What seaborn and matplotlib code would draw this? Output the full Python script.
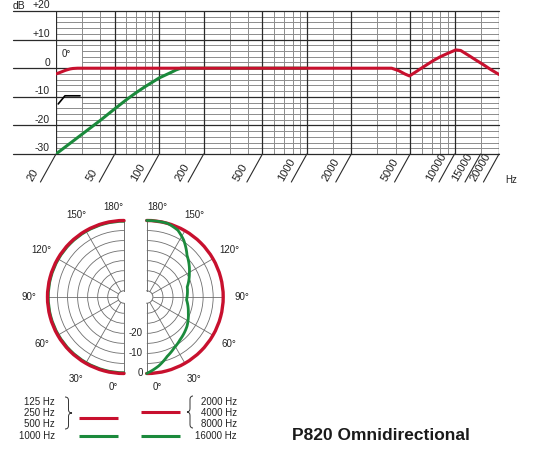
import numpy as np
import matplotlib
matplotlib.use('Agg')
import matplotlib.pyplot as plt
import matplotlib.transforms as mtransforms
from matplotlib.path import Path
from matplotlib.patches import PathPatch
import seaborn as sns

# frequency response, 0 degrees
red_hz = [20, 21, 22, 23, 24, 25, 26, 28, 30, 1000, 3750, 4200, 4600, 4950, 5500, 6000,
          7200, 8000, 9000, 10200, 11000, 12700, 14100, 15600, 17500, 20000]
red_db = [-2.0, -1.6, -1.2, -0.8, -0.5, -0.25, -0.1, 0, 0, 0, 0, -0.9, -2.0, -2.7, -1.2, 0.1,
          2.7, 4.0, 5.2, 6.4, 6.2, 4.2, 2.7, 1.3, -0.4, -2.2]
green_hz = [20, 25, 30, 40, 50, 60, 70, 80, 100, 120, 130, 140, 200, 1000]
green_db = [-30, -26.2, -23.1, -18.2, -14.2, -11.0, -8.5, -6.5, -3.4, -1.5, -0.6, 0, 0, 0]

# filter symbol in the little box
filter_hz = [20.7, 23, 29.1]
filter_db = [-12.5, -9.65, -9.65]

major_hz = [20, 50, 100, 200, 500, 1000, 2000, 5000, 10000, 20000]
minor_hz = [30, 40, 60, 70, 80, 90, 150, 300, 400, 600, 700, 800, 900, 1500,
            3000, 4000, 6000, 7000, 8000, 9000, 15000]
hz_labels = [20, 50, 100, 200, 500, 1000, 2000, 5000, 10000, 15000, 20000]
db_major = [20, 10, 0, -10, -20, -30]
db_major_labels = ['+20', '+10', '0', '-10', '-20', '-30']
db_minor = [18, 16, 14, 12, 8, 6, 4, 2, -2, -4, -6, -8, -12, -14, -16, -18,
            -22, -24, -26, -28]
db_boxed = [6, 4, 2, -12]   # minor rows that start at 30 Hz (white boxes)

# polar patterns
polar_deg = [0, 30, 60, 90, 120, 150, 180]
polar_left_red = [0, 0, 0, 0, 0, 0, 0]
polar_left_green = [-0.4, -0.4, -0.4, -0.4, -0.4, -0.4, -0.4]
polar_right_red = [0, 0, 0, 0, 0, 0, 0]
green16k_deg = [0, 10, 19, 28, 38, 54, 69, 86, 104, 119, 136, 147, 155, 164, 172, 180]
green16k_db = [0, -3.3, -6.8, -9.2, -11.1, -13.3, -15.9, -18.2, -17.3, -13.8, -9.2,
               -4.3, -1.4, 0, 0, 0]
ring_db = [-30, -25, -20, -15, -10, -5, 0]
ring_labels = [-20, -10, 0]
angle_labels = [30, 60, 90, 120, 150]

legend_left = ['125 Hz', '250 Hz', '500 Hz', '1000 Hz']
legend_right = ['2000 Hz', '4000 Hz', '8000 Hz', '16000 Hz']

RED = '#c8102e'
GREEN = '#1b8a3c'
DARK = '#2a2a2a'
LIGHT = '#8c8c8c'
TXT = '#222222'

sns.set_theme(style='white')
plt.rcParams['font.family'] = ['Liberation Sans', 'DejaVu Sans']

fig = plt.figure(figsize=(5.5, 4.5), dpi=100)
W, H = 550.0, 450.0


def rect(x0, y0, x1, y1):
    # pixel box (top-left origin) -> figure fraction
    return [x0 / W, 1 - y1 / H, (x1 - x0) / W, (y1 - y0) / H]


# ---------------- frequency response ----------------
ax = fig.add_axes(rect(56, 11, 499, 154))
ax.set_xscale('log')
ax.set_xlim(20, 20000)
ax.set_ylim(-30, 20)
for s in ax.spines.values():
    s.set_visible(False)
ax.tick_params(which='both', length=0, labelbottom=False, labelleft=False)
ax.xaxis.set_minor_locator(matplotlib.ticker.NullLocator())
ax.set_xticks([])
ax.set_yticks([])

left_ext = -43 / 443.0
box_x = np.log10(30 / 20) / 3
for v in db_minor:
    ax.axhline(v, xmin=box_x if v in db_boxed else 0, xmax=1, color=LIGHT, lw=0.7, zorder=1)
for f in minor_hz:
    ax.axvline(f, color=LIGHT, lw=0.7, zorder=1)
for f in major_hz:
    ax.axvline(f, color=DARK, lw=0.9, zorder=2)
for v in db_major:
    ax.axhline(v, xmin=left_ext, xmax=1, color=DARK, lw=0.9, zorder=2, clip_on=False)

ylab_tr = mtransforms.blended_transform_factory(ax.transAxes, ax.transData)
for v, lab in zip(db_major, db_major_labels):
    ax.text(-6 / 443.0, v + 0.9, lab, transform=ylab_tr, ha='right', va='baseline',
            fontsize=7.5, color=TXT)
fig.text(13 / W, 1 - 9 / H, 'dB', ha='left', va='baseline', fontsize=7.5, color=TXT)

for f in hz_labels:
    ax.annotate('', xy=(f, -30), xytext=(-11.2, -20.2), textcoords='offset points',
                annotation_clip=False,
                arrowprops=dict(arrowstyle='-', color=DARK, lw=0.8, shrinkA=0, shrinkB=0))
    ax.annotate(str(f), xy=(f, -30), xytext=(-17, -20.2), textcoords='offset points',
                rotation=60, rotation_mode='anchor', ha='left', va='baseline',
                fontsize=8, color=TXT, annotation_clip=False)
fig.text(505 / W, 1 - 183 / H, 'Hz', ha='left', va='baseline', fontsize=7, color=TXT)

ax.text(23.6, 5.1, '0°', ha='center', va='center', fontsize=7, color=TXT)
sns.lineplot(x=filter_hz, y=filter_db, ax=ax, color='black', lw=1.2, sort=False,
             estimator=None, zorder=4)
sns.lineplot(x=green_hz, y=green_db, ax=ax, color=GREEN, lw=2.2, sort=False,
             estimator=None, zorder=5)
sns.lineplot(x=red_hz, y=red_db, ax=ax, color=RED, lw=2.2, sort=False,
             estimator=None, zorder=6)
ax.set_xlabel('')
ax.set_ylabel('')


# ---------------- polar halves ----------------
R = 76.5
CY = 297


def half_polar(x_edge, direction):
    # half disk spans R px to one side of x_edge; polar axes box is square, wedge centred
    cx = x_edge - R / 2 if direction < 0 else x_edge + R / 2
    pax = fig.add_axes(rect(cx - R, CY - R, cx + R, CY + R), projection='polar')
    pax.set_theta_zero_location('S')
    pax.set_theta_direction(direction)
    pax.set_thetamin(0)
    pax.set_thetamax(180)
    pax.set_ylim(-35, 0)
    pax.set_rorigin(-38.1)
    pax.set_yticks(ring_db)
    pax.set_yticklabels([])
    pax.set_xticks(np.deg2rad(angle_labels))
    pax.set_xticklabels([])
    pax.grid(True, color='#6e6e6e', lw=0.6)
    pax.set_facecolor('white')
    for s in pax.spines.values():
        s.set_color('#6e6e6e')
        s.set_linewidth(0.7)
    for a in angle_labels:
        pax.text(np.deg2rad(a), 9.2, f'{a}°', ha='center', va='center', fontsize=7, color=TXT)
    pax.text(np.deg2rad(7), 7.2, '0°', ha='center', va='center', fontsize=7, color=TXT)
    pax.text(np.deg2rad(173), 7.2, '180°', ha='center', va='center', fontsize=7, color=TXT)
    return pax


def smooth_lines(pax):
    for ln in pax.get_lines():
        ln.get_path()._interpolation_steps = 40


pl = half_polar(124, -1)
sns.lineplot(x=np.deg2rad(polar_deg), y=polar_left_green, ax=pl, color=GREEN, lw=2.0,
             sort=False, estimator=None, clip_on=False, zorder=5)
sns.lineplot(x=np.deg2rad(polar_deg), y=polar_left_red, ax=pl, color=RED, lw=2.4,
             sort=False, estimator=None, clip_on=False, zorder=6)
smooth_lines(pl)

pr = half_polar(146.7, 1)
sns.lineplot(x=np.deg2rad(polar_deg), y=polar_right_red, ax=pr, color=RED, lw=2.4,
             sort=False, estimator=None, clip_on=False, zorder=5)
sns.lineplot(x=np.deg2rad(green16k_deg), y=green16k_db, ax=pr, color=GREEN, lw=2.0,
             sort=False, estimator=None, clip_on=False, zorder=6)
smooth_lines(pr)
for v in ring_labels:
    pr.annotate(str(v), xy=(0, v), xytext=(-3, 0), textcoords='offset points',
                ha='right', va='center', fontsize=7, color=TXT, annotation_clip=False)
for p in (pl, pr):
    p.set_xlabel('')
    p.set_ylabel('')

# ---------------- legend and title ----------------
lg = fig.add_axes([0, 0, 1, 1])
lg.set_xlim(0, W)
lg.set_ylim(H, 0)
lg.axis('off')
lg.patch.set_alpha(0)

rows_y = [401.7, 412.7, 424.3, 436]
for y, lab in zip(rows_y, legend_left):
    lg.text(55, y, lab, ha='right', va='center', fontsize=7, color=TXT)
for y, lab in zip(rows_y, legend_right):
    lg.text(237, y, lab, ha='right', va='center', fontsize=7, color=TXT)

lg.hlines([417.7], 79, 118, color=RED, lw=2.2)
lg.hlines([436], 79, 118, color=GREEN, lw=2.2)
lg.hlines([411.7], 141, 180, color=RED, lw=2.2)
lg.hlines([436], 141, 180, color=GREEN, lw=2.2)


def brace(x0, y1, y2, w, sign):
    ym = (y1 + y2) / 2
    c = 3.5
    xm = x0 + sign * w / 2
    xt = x0 + sign * w
    verts = [(x0, y1), (xm, y1), (xm, y1 + c), (xm, ym - c), (xm, ym), (xt, ym),
             (xm, ym), (xm, ym + c), (xm, y2 - c), (xm, y2), (x0, y2)]
    codes = [Path.MOVETO, Path.CURVE3, Path.CURVE3, Path.LINETO, Path.CURVE3, Path.CURVE3,
             Path.CURVE3, Path.CURVE3, Path.LINETO, Path.CURVE3, Path.CURVE3]
    lg.add_patch(PathPatch(Path(verts, codes), fill=False, lw=0.7, edgecolor='#333333'))


brace(65, 397, 429, 7, 1)
brace(193, 396, 428, 6, -1)

lg.text(381, 435, 'P820 Omnidirectional', ha='center', va='center', fontsize=12.5,
        fontweight='bold', color='#1a1a1a')

fig.savefig('out.png', dpi=100)
